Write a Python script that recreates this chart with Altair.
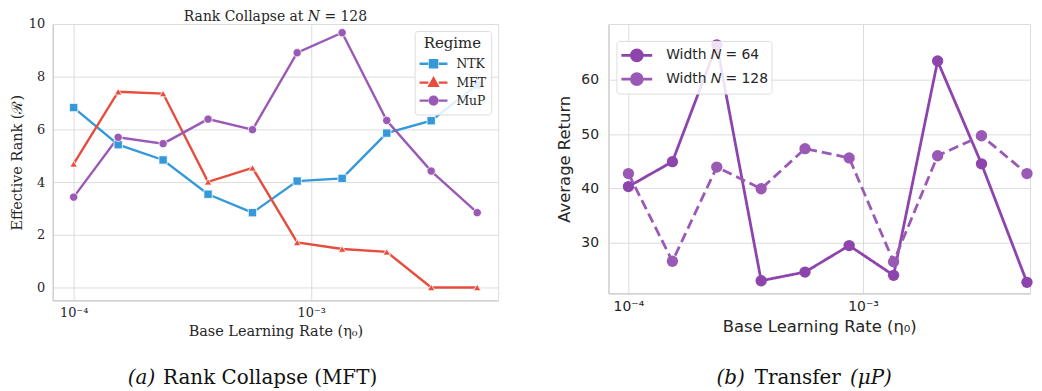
import altair as alt
import pandas as pd

# ---------------- data ----------------
lr = [1.0e-4, 1.54e-4, 2.38e-4, 3.68e-4, 5.66e-4, 8.73e-4, 1.35e-3, 2.08e-3, 3.20e-3, 5.0e-3]
regimes = ["NTK", "MFT", "MuP"]
ntk = [6.83, 5.42, 4.84, 3.54, 2.84, 4.04, 4.14, 5.86, 6.33, 7.69]
mft = [4.69, 7.43, 7.36, 4.01, 4.54, 1.71, 1.46, 1.35, 0.0, 0.0]
mup = [3.43, 5.70, 5.46, 6.39, 5.99, 8.91, 9.67, 6.34, 4.42, 2.84]

widths = ["Width 𝑁 = 64", "Width 𝑁 = 128"]
ret64 = [40.3, 44.9, 66.5, 22.9, 24.5, 29.4, 23.9, 63.5, 44.5, 22.6]
ret128 = [42.7, 26.5, 43.9, 39.9, 47.3, 45.6, 26.4, 46.0, 49.7, 42.7]

xtick_vals = [1e-4, 1e-3]
xtick_labels = ["10⁻⁴", "10⁻³"]
ytick_left = [0, 2, 4, 6, 8, 10]
ytick_right = [30, 40, 50, 60]

left_title = ["Rank Collapse at 𝑁 = 128"]
cap_a = ["(a)", "Rank Collapse (MFT)"]
cap_b = ["(b)", "Transfer", "(μP)"]

# ---------------- styling ----------------
serif = "DejaVu Serif"
sans = "DejaVu Sans"
cap_font = "DejaVu Serif"
txt = "#262626"
grid = "#dcdcdc"
spine = "#cccccc"
reg_colors = ["#3498db", "#e74c3c", "#9b59b6"]
reg_shapes = ["square", "triangle-up", "circle"]
w_colors = ["#8e44ad", "#9b59b6"]

label_expr = "datum.value < 3e-4 ? '%s' : '%s'" % (xtick_labels[0], xtick_labels[1])

dfL = pd.DataFrame({
    "lr": lr * 3,
    "rank": ntk + mft + mup,
    "Regime": [r for r in regimes for _ in lr],
})
dfR = pd.DataFrame({
    "lr": lr * 2,
    "ret": ret64 + ret128,
    "Width": [w for w in widths for _ in lr],
})

WL, HL = 448, 278
WR, HR = 424, 271


def xaxis(font, size, tsize):
    return alt.Axis(values=xtick_vals, labelExpr=label_expr, title="Base Learning Rate (η₀)",
                    grid=True, gridColor=grid, gridWidth=1, domainColor=spine, domainWidth=1.2,
                    ticks=False, labelFont=font, labelFontSize=size, labelColor=txt,
                    labelPadding=6, titleFont=font, titleFontSize=tsize, titleFontWeight="normal",
                    titleColor=txt, titlePadding=5, labelFlush=False)


def text_layer(items, font, size, style, align, x, y, color="#111111"):
    return alt.Chart(pd.DataFrame({"t": items})).mark_text(
        font=font, fontSize=size, fontStyle=style, align=align, baseline="alphabetic",
        color=color).encode(text="t:N", x=alt.value(x), y=alt.value(y))


# ---------------- left panel ----------------
xL = alt.X("lr:Q", scale=alt.Scale(type="log", domain=[10 ** -4.088, 10 ** -2.213], nice=False),
           axis=xaxis(serif, 13, 14.5))
yL = alt.Y("rank:Q", scale=alt.Scale(domain=[-0.49, 10.0], nice=False, zero=False),
           axis=alt.Axis(values=ytick_left, title="Effective Rank (ℛ)", grid=True, gridColor=grid,
                         domainColor=spine, domainWidth=1.2, ticks=False, labelFont=serif,
                         labelFontSize=13, labelColor=txt, labelPadding=8, titleFont=serif,
                         titleFontSize=14.5, titleFontWeight="normal", titleColor=txt,
                         titlePadding=4))
colL_scale = alt.Scale(domain=regimes, range=reg_colors)
colL = alt.Color("Regime:N", scale=colL_scale, legend=None)

base_L = alt.Chart(dfL)

leg_paths = [
    "M-1.65,0H-0.62M0.62,0H1.65M-0.42,-0.42H0.42V0.42H-0.42Z",
    "M-1.65,0H-0.62M0.62,0H1.65M0,-0.5L0.48,0.36H-0.48Z",
    "M-1.65,0H-0.62M0.62,0H1.65M0.46,0A0.46,0.46,0,1,1,-0.46,0A0.46,0.46,0,1,1,0.46,0Z",
]
legL_def = alt.Legend(title="Regime", orient="top-right", offset=7,
                      fillColor="rgba(255,255,255,0.85)", strokeColor="#dddddd",
                      cornerRadius=3, padding=5, symbolOffset=4, titleFont=serif,
                      titleFontSize=15, titleFontWeight="normal", titleColor=txt,
                      titleAnchor="middle", titleAlign="center", titlePadding=3,
                      labelFont=serif, labelFontSize=12.5, labelColor=txt, symbolSize=289,
                      symbolStrokeWidth=2.4, rowPadding=0, labelOffset=13)
legend_L = base_L.transform_filter("false").mark_point(filled=True, opacity=1).encode(
    x=xL, y=yL,
    color=alt.Color("Regime:N", scale=colL_scale, legend=legL_def),
    stroke=alt.Stroke("Regime:N", scale=colL_scale, legend=legL_def),
    shape=alt.Shape("Regime:N", scale=alt.Scale(domain=regimes, range=leg_paths), legend=legL_def),
)
lines_L = base_L.mark_line(strokeWidth=2.4).encode(x=xL, y=yL, color=colL, detail="Regime:N")
pts_L = []
for r, s in zip(regimes, reg_shapes):
    pts_L.append(base_L.transform_filter(alt.datum.Regime == r).mark_point(
        filled=True, shape=s, size=70 if s != "triangle-up" else 55, opacity=1,
        stroke="white", strokeWidth=0.8).encode(x=xL, y=yL, color=colL))

title_L = text_layer(left_title, serif, 14, "normal", "center", WL / 2, -3, txt)
capA1 = text_layer([cap_a[0]], cap_font, 20, "italic", "right", 103, 362)
capA2 = text_layer([cap_a[1]], cap_font, 20, "normal", "left", 111, 362)

left = alt.layer(legend_L, lines_L, *pts_L, title_L, capA1, capA2).properties(width=WL, height=HL)

# ---------------- right panel ----------------
xR = alt.X("lr:Q", scale=alt.Scale(type="log", domain=[10 ** -4.085, 10 ** -2.288], nice=False),
           axis=xaxis(sans, 14, 16.5))
yR = alt.Y("ret:Q", scale=alt.Scale(domain=[20.55, 70.34], nice=False, zero=False),
           axis=alt.Axis(values=ytick_right, title="Average Return", grid=True, gridColor=grid,
                         domainColor=spine, domainWidth=1.2, ticks=False, labelFont=sans,
                         labelFontSize=14, labelColor=txt, labelPadding=10, titleFont=sans,
                         titleFontSize=16.5, titleFontWeight="normal", titleColor=txt,
                         titlePadding=8))
colR_scale = alt.Scale(domain=widths, range=w_colors)
dashR = alt.StrokeDash("Width:N", scale=alt.Scale(domain=widths, range=[[1, 0], [10, 5]]),
                       legend=None)
base_R = alt.Chart(dfR)
leg_path_R = "M-1.55,0H1.55M0.55,0A0.55,0.55,0,1,1,-0.55,0A0.55,0.55,0,1,1,0.55,0Z"
legR_def = alt.Legend(title=None, orient="none", legendX=8, legendY=17,
                      fillColor="rgba(255,255,255,0.85)", strokeColor="#dddddd",
                      cornerRadius=3, padding=3, symbolOffset=6, labelFont=sans,
                      labelFontSize=14, labelColor=txt, symbolSize=400,
                      symbolStrokeWidth=2.8, rowPadding=1, labelOffset=18)
legend_R = base_R.transform_filter("false").mark_point(filled=True, opacity=1).encode(
    x=xR, y=yR,
    color=alt.Color("Width:N", scale=colR_scale, legend=legR_def),
    stroke=alt.Stroke("Width:N", scale=colR_scale, legend=legR_def),
    shape=alt.Shape("Width:N", scale=alt.Scale(domain=widths, range=[leg_path_R, leg_path_R]),
                    legend=legR_def),
)
lines_R = base_R.mark_line(strokeWidth=2.8).encode(
    x=xR, y=yR, color=alt.Color("Width:N", scale=colR_scale, legend=None), strokeDash=dashR)
pts_R = base_R.mark_circle(size=130, opacity=1).encode(
    x=xR, y=yR, color=alt.Color("Width:N", scale=colR_scale, legend=None))

capB1 = text_layer([cap_b[0]], cap_font, 20, "italic", "right", 137, 362)
capB2 = text_layer([cap_b[1]], cap_font, 20, "normal", "left", 147, 362)
capB3 = text_layer([cap_b[2]], cap_font, 20, "italic", "left", 243, 362)

right = alt.layer(legend_R, lines_R, pts_R, capB1, capB2, capB3).properties(width=WR, height=HR)

chart = alt.hconcat(left, right, spacing=57).resolve_scale(
    color="independent", shape="independent", stroke="independent",
    x="independent", y="independent"
).properties(padding=0).configure_view(stroke=None).configure(background="white")

chart.save("out.html", embed_options={"renderer": "svg", "actions": False})
